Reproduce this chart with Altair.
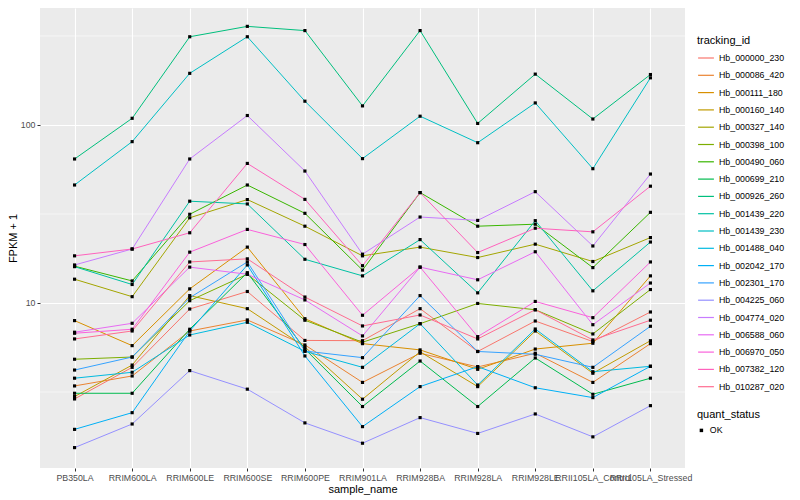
import altair as alt
import pandas as pd

samples = ["PB350LA", "RRIM600LA", "RRIM600LE", "RRIM600SE", "RRIM600PE", "RRIM901LA",
           "RRIM928BA", "RRIM928LA", "RRIM928LE", "RRII105LA_Control", "RRII105LA_Stressed"]

tracking_ids = ["Hb_000000_230", "Hb_000086_420", "Hb_000111_180", "Hb_000160_140", "Hb_000327_140",
                "Hb_000398_100", "Hb_000490_060", "Hb_000699_210", "Hb_000926_260", "Hb_001439_220",
                "Hb_001439_230", "Hb_001488_040", "Hb_002042_170", "Hb_002301_170", "Hb_004225_060",
                "Hb_004774_020", "Hb_006588_060", "Hb_006970_050", "Hb_007382_120", "Hb_010287_020"]

hue_colors = ["#F8766D", "#EA8331", "#D89000", "#C09B00", "#A3A500", "#7CAE00", "#39B600", "#00BB4E",
              "#00BF7D", "#00C1A3", "#00BFC4", "#00BAE0", "#00B0F6", "#35A2FF", "#9590FF", "#C77CFF",
              "#E76BF3", "#FA62DB", "#FF62BC", "#FF6C91"]

# FPKM + 1, one value per sample (same order as `samples`)
Hb_000000_230 = [2.89, 4.35, 9.25, 11.6, 6.16, 6.14, 9.29, 5.34, 7.92, 6.07, 8.90]
Hb_000086_420 = [3.42, 3.89, 6.96, 8.03, 5.81, 3.58, 5.22, 4.37, 5.22, 3.58, 5.91]
Hb_000111_180 = [7.96, 5.76, 12.0, 20.6, 8.16, 5.91, 5.45, 4.24, 5.51, 5.94, 14.2]
Hb_000160_140 = [2.98, 4.48, 11.0, 9.29, 5.66, 2.88, 5.32, 3.39, 6.96, 4.03, 6.14]
Hb_000327_140 = [13.6, 10.85, 30.1, 38.1, 27.0, 18.4, 20.6, 18.0, 21.4, 17.1, 23.3]
Hb_000398_100 = [4.83, 4.97, 10.3, 14.5, 8.00, 6.02, 7.65, 9.94, 9.16, 6.70, 11.9]
Hb_000490_060 = [16.1, 13.3, 31.5, 46.0, 31.9, 15.3, 41.7, 27.0, 27.7, 15.8, 32.3]
Hb_000699_210 = [3.11, 3.11, 7.12, 14.8, 5.51, 2.62, 4.72, 2.62, 4.91, 3.07, 3.78]
Hb_000926_260 = [64.4, 109, 313, 358, 339, 128, 339, 102, 193, 108, 192]
Hb_001439_220 = [16.0, 12.7, 37.3, 36.0, 17.6, 14.2, 22.7, 11.4, 29.0, 11.7, 22.0]
Hb_001439_230 = [46.0, 80.6, 195, 313, 136, 64.7, 112, 79.5, 133, 56.8, 184]
Hb_001488_040 = [3.78, 4.08, 6.61, 7.79, 5.35, 4.35, 7.65, 3.46, 7.14, 4.11, 4.41]
Hb_002042_170 = [1.95, 2.42, 6.96, 16.35, 5.04, 2.02, 3.39, 4.39, 3.34, 2.94, 4.41]
Hb_002301_170 = [4.20, 4.97, 10.7, 17.0, 5.37, 4.93, 11.0, 5.34, 5.15, 4.35, 7.40]
Hb_004225_060 = [1.54, 2.09, 4.17, 3.28, 2.12, 1.63, 2.27, 1.85, 2.38, 1.77, 2.65]
Hb_004774_020 = [16.35, 20.1, 64.4, 113, 55.1, 18.8, 30.4, 29.1, 42.2, 20.9, 53.0]
Hb_006588_060 = [6.85, 7.69, 15.9, 14.5, 10.4, 6.53, 15.9, 13.5, 19.4, 7.55, 12.95]
Hb_006970_050 = [6.76, 7.12, 19.3, 25.9, 21.3, 8.53, 15.9, 6.47, 10.2, 8.27, 17.0]
Hb_007382_120 = [18.4, 20.1, 24.8, 60.8, 38.2, 16.2, 41.7, 19.2, 26.3, 25.1, 45.3]
Hb_010287_020 = [6.28, 6.96, 17.0, 17.7, 10.8, 7.43, 8.56, 6.28, 9.16, 6.20, 8.00]

series = [Hb_000000_230, Hb_000086_420, Hb_000111_180, Hb_000160_140, Hb_000327_140,
          Hb_000398_100, Hb_000490_060, Hb_000699_210, Hb_000926_260, Hb_001439_220,
          Hb_001439_230, Hb_001488_040, Hb_002042_170, Hb_002301_170, Hb_004225_060,
          Hb_004774_020, Hb_006588_060, Hb_006970_050, Hb_007382_120, Hb_010287_020]

y_ticks = [10, 100]
y_minor = [3.1623, 31.623, 316.23]
y_domain = [1.183, 454]

rows = []
for tid, vals in zip(tracking_ids, series):
    for s, v in zip(samples, vals):
        rows.append({"tracking_id": tid, "sample_name": s, "fpkm": v, "quant_status": "OK"})
df = pd.DataFrame(rows)
minor_df = pd.DataFrame({"fpkm": y_minor})

x_scale = alt.Scale(type="point", padding=0.6)
x_axis = alt.Axis(title="sample_name", labelAngle=0, labelOverlap=False,
                  grid=True, gridColor="white", gridWidth=1.1, domain=False,
                  tickColor="#333333", tickSize=3, tickWidth=1,
                  labelColor="#4D4D4D", labelFontSize=8.8, labelPadding=2,
                  titleFontSize=11, titleFontWeight="normal", titleColor="black",
                  titlePadding=2)
y_scale = alt.Scale(type="log", domain=y_domain, nice=False)
y_axis = alt.Axis(title="FPKM + 1", values=y_ticks, labelExpr="format(datum.value, 'd')",
                  grid=True, gridColor="white", gridWidth=1.1, domain=False,
                  tickColor="#333333", tickSize=3, tickWidth=1,
                  labelColor="#4D4D4D", labelFontSize=8.8, labelPadding=2,
                  titleFontSize=11, titleFontWeight="normal", titleColor="black",
                  titlePadding=2)

minor = alt.Chart(minor_df).mark_rule(color="white", strokeWidth=0.55).encode(
    y=alt.Y("fpkm:Q", scale=y_scale, axis=y_axis))

lines = alt.Chart(df).mark_line(strokeWidth=1).encode(
    x=alt.X("sample_name:N", sort=samples, scale=x_scale, axis=x_axis),
    y=alt.Y("fpkm:Q", scale=y_scale, axis=y_axis),
    color=alt.Color("tracking_id:N",
                    scale=alt.Scale(domain=tracking_ids, range=hue_colors),
                    legend=alt.Legend(title="tracking_id", orient="none", legendX=657, legendY=27,
                                      symbolType="stroke", symbolSize=250, symbolStrokeWidth=1.2,
                                      labelFontSize=8.8, labelColor="black", labelOffset=4,
                                      titleFontSize=11, titleFontWeight="normal", titleColor="black",
                                      titlePadding=3, rowPadding=3.3)),
    detail="tracking_id:N")

points = alt.Chart(df).mark_point(filled=True, size=10, opacity=1, color="black").encode(
    x=alt.X("sample_name:N", sort=samples, scale=x_scale, axis=x_axis),
    y=alt.Y("fpkm:Q", scale=y_scale, axis=y_axis),
    shape=alt.Shape("quant_status:N", scale=alt.Scale(domain=["OK"], range=["square"]),
                    legend=alt.Legend(title="quant_status", orient="none", legendX=657, legendY=401,
                                      symbolSize=12, symbolFillColor="black", symbolStrokeColor="black",
                                      labelFontSize=8.8, labelColor="black", labelOffset=4,
                                      titleFontSize=11, titleFontWeight="normal", titleColor="black",
                                      titlePadding=6)))

chart = alt.layer(minor, lines, points).properties(
    width=645, height=460,
    autosize=alt.AutoSizeParams(type="none"),
    padding={"left": 32, "top": 0, "right": 107, "bottom": 28},
).configure(font="Liberation Sans").configure_view(fill="#EBEBEB", stroke=None)

chart.save("out.html", embed_options={"renderer": "svg", "actions": False})
